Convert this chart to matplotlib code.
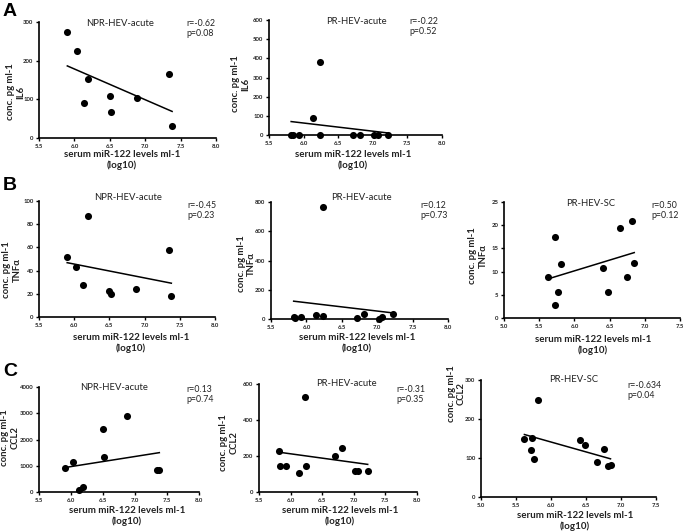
import numpy as np
import matplotlib
matplotlib.use("Agg")
import matplotlib.pyplot as plt

plt.rcParams['font.family'] = ['Lato', 'DejaVu Sans']

W, H = 685, 531

# ---------------- data ----------------
npr_x = [5.90, 6.03, 6.13, 6.19, 6.50, 6.52, 6.88, 7.34, 7.38]
npr_il6 = [273, 225, 91, 153, 109, 67, 103, 166, 32]
npr_tnf = [52, 43, 28, 87, 22, 20, 24.5, 58, 18]
npr_ccl2 = [896, 1130, 90, 200, 2400, 1350, 2880, 820, 820]

pra_x = [5.82, 5.84, 5.93, 6.13, 6.23, 6.24, 6.71, 6.82, 7.02, 7.07, 7.22]
pra_il6 = [0, 0, 0, 90, 383, 0, 0, 0, 0, 0, 0]
pra_tnf = [11, 9, 14, 28, 763, 21, 9, 35, 0, 14, 35]
pra_ccl2 = [227, 145, 145, 106, 527, 147, 199, 247, 119, 115, 115]

prsc_x = [5.62, 5.72, 5.73, 5.76, 5.81, 6.41, 6.48, 6.65, 6.75, 6.82, 6.85]
prsc_tnf = [8.9, 2.9, 17.4, 5.6, 11.7, 10.7, 5.6, 19.3, 8.9, 20.9, 11.9]
prsc_ccl2 = [150, 120, 152, 97, 248, 146, 134, 89, 122, 79, 82]

titles = ["NPR-HEV-acute", "PR-HEV-acute", "PR-HEV-SC"]
stats = {
    "A1": ("r=-0.62", "p=0.08"), "A2": ("r=-0.22", "p=0.52"),
    "B1": ("r=-0.45", "p=0.23"), "B2": ("r=0.12", "p=0.73"), "B3": ("r=0.50", "p=0.12"),
    "C1": ("r=0.13", "p=0.74"), "C2": ("r=-0.31", "p=0.35"), "C3": ("r=-0.634", "p=0.04"),
}
xlabel = "serum miR-122 levels ml-1\n(log10)"
ylab1 = "conc. pg ml-1"

fig = plt.figure(figsize=(W / 100, H / 100), dpi=100)
TXT = '#222222'


def ftext(x, y, s, **kw):
    fig.text(x / W, 1 - y / H, s, color=TXT, **kw)


def panel(box, x, y, xlim, xticks, ylim, yticks, title, tpos, stat, spos, ylab2, ylpos, xlpos):
    l, r, t, b = box
    ax = fig.add_axes([l / W, 1 - b / H, (r - l) / W, (b - t) / H])
    ax.scatter(x, y, s=26, color='black', zorder=3, clip_on=False, linewidths=0)
    k, c = np.polyfit(x, y, 1)
    xs = np.array([min(x), max(x)])
    ax.plot(xs, k * xs + c, color='black', lw=1.1, zorder=2)
    ax.set_xlim(*xlim)
    ax.set_ylim(*ylim)
    ax.set_xticks(xticks)
    ax.set_xticklabels([f"{v:.1f}" for v in xticks])
    ax.set_yticks(yticks)
    ax.set_yticklabels([f"{int(v)}" for v in yticks])
    for s in ['top', 'right']:
        ax.spines[s].set_visible(False)
    for s in ['left', 'bottom']:
        ax.spines[s].set_linewidth(1.2)
    ax.tick_params(length=2.5, width=1.0, labelsize=4.3, pad=1.5, colors='black', labelcolor=TXT)
    for lab in ax.get_xticklabels() + ax.get_yticklabels():
        lab.set_fontweight('bold')
    ftext(tpos[0], tpos[1], title, fontsize=6.8, ha='center', va='center')
    ftext(spos[0], spos[1], stat[0], fontsize=6.3, ha='left', va='center')
    ftext(spos[0], spos[1] + 10, stat[1], fontsize=6.3, ha='left', va='center')
    ftext(xlpos[0], xlpos[1], xlabel, fontsize=7, ha='center', va='center',
          fontweight='bold', linespacing=1.25)
    ftext(ylpos[0] - 5, ylpos[1], ylab1, fontsize=6.8, ha='center', va='center',
          rotation=90, fontweight='bold')
    ftext(ylpos[0] + 5, ylpos[1], ylab2, fontsize=6.8, ha='center', va='center',
          rotation=90, fontweight='bold')
    return ax


xt1 = [5.5, 6.0, 6.5, 7.0, 7.5, 8.0]
xt2 = [5.0, 5.5, 6.0, 6.5, 7.0, 7.5]

panel((39, 216, 22, 138), npr_x, npr_il6, (5.5, 8.0), xt1, (0, 300), [0, 100, 200, 300],
      titles[0], (120, 23), stats["A1"], (186, 23), "IL6", (16, 92), (122, 160))
panel((269, 442, 20, 135), pra_x, pra_il6, (5.5, 8.0), xt1, (0, 600), [0, 100, 200, 300, 400, 500, 600],
      titles[1], (356, 21), stats["A2"], (409, 22), "IL6", (241, 84), (353, 160))
panel((39, 215, 201, 317), npr_x, npr_tnf, (5.5, 8.0), xt1, (0, 100), [0, 20, 40, 60, 80, 100],
      titles[0], (128, 197), stats["B1"], (187, 205), "TNFα", (12, 270), (131, 343))
panel((271, 448, 202, 319), pra_x, pra_tnf, (5.5, 8.0), xt1, (0, 800), [0, 200, 400, 600, 800],
      titles[1], (361, 197), stats["B2"], (420, 205), "TNFα", (246, 264), (357, 343))
panel((504, 680, 202, 318), prsc_x, prsc_tnf, (5.0, 7.5), xt2, (0, 25), [0, 5, 10, 15, 20, 25],
      titles[2], (591, 203), stats["B3"], (651, 205), "TNFα", (478, 256), (593, 345))
panel((39, 199, 387, 492), npr_x, npr_ccl2, (5.5, 8.0), xt1, (0, 4000), [0, 1000, 2000, 3000, 4000],
      titles[0], (114, 387), stats["C1"], (186, 390), "CCL2", (10, 438), (127, 516))
panel((259, 417, 384, 492), pra_x, pra_ccl2, (5.5, 8.0), xt1, (0, 600), [0, 200, 400, 600],
      titles[1], (346, 384), stats["C2"], (396, 389), "CCL2", (229, 443), (340, 516))
panel((481, 656, 380, 497), prsc_x, prsc_ccl2, (5.0, 7.5), xt2, (0, 300), [0, 100, 200, 300],
      titles[2], (574, 379), stats["C3"], (627, 385), "CCL2", (456, 394), (575, 521))

for letter, (lx, ly) in {"A": (10, 11), "B": (10, 186), "C": (10, 371)}.items():
    fig.text(lx / W, 1 - ly / H, letter, fontsize=14, fontweight='bold', ha='center', va='center',
             family=['Liberation Sans', 'DejaVu Sans'])

fig.savefig("out.png", dpi=100)
